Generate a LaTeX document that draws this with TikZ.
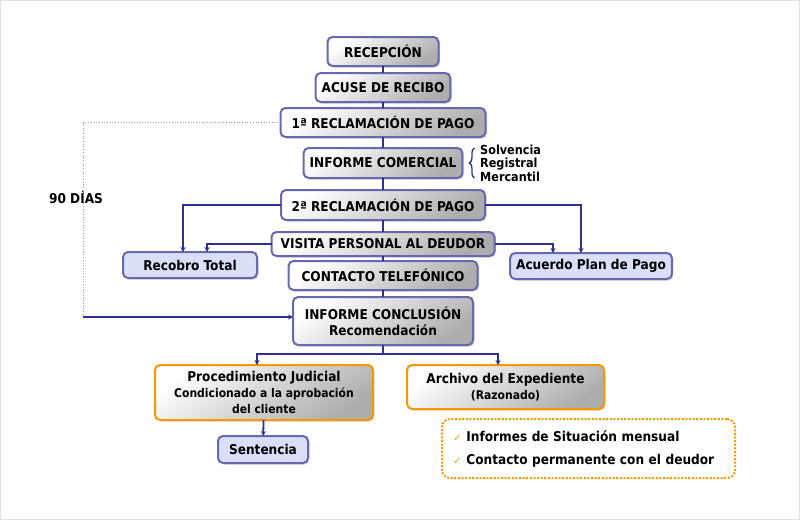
\documentclass[tikz,border=0pt]{standalone}
\usepackage{fontspec}
\setmainfont{DejaVu Sans Condensed}
\newfontfamily\symfont{DejaVu Sans}
\usepackage{tikz}
\usetikzlibrary{positioning, arrows.meta, shadows, decorations.pathreplacing}

\definecolor{navy}{RGB}{46,49,146}
\definecolor{boxline}{RGB}{104,104,176}
\definecolor{paleblue}{RGB}{216,223,247}
\definecolor{amber}{RGB}{247,153,0}
\newcommand{\chk}{{\symfont\color{amber}\fontsize{10}{10}\selectfont ✓}\hspace{5pt}}

\begin{document}
\begin{tikzpicture}[
    x=1pt, y=-1pt,
    font=\bfseries\fontsize{13.5}{16}\selectfont,
    basebox/.style={rounded corners=5pt, line width=2pt, outer sep=0pt, align=center, inner xsep=6pt, inner ysep=2pt,
        drop shadow={shadow xshift=1.5pt, shadow yshift=-1.5pt, opacity=0.35}},
    stepbox/.style={basebox, draw=boxline, top color=white, bottom color=black!32, shading angle=35},
    outcome/.style={basebox, draw=boxline, fill=paleblue, minimum height=26pt},
    legalbox/.style={basebox, draw=amber, top color=white, bottom color=black!32, shading angle=35},
    link/.style={draw=navy, line width=1.8pt},
    arrowlink/.style={link, -{Stealth[length=5pt,width=5pt]}}
]
\useasboundingbox (0,0) rectangle (800,520);
\draw[black!12] (0.5,0.5) rectangle (799.5,519.5);

% Main sequence
\node[stepbox, minimum width=111pt, minimum height=29pt] (recep) at (383,51.5) {RECEPCIÓN};
\node[stepbox, minimum width=132pt, minimum height=29pt, below=7pt of recep] (acuse) {ACUSE DE RECIBO};
\node[stepbox, minimum width=205pt, minimum height=29pt, below=6pt of acuse] (recl1) {1ª RECLAMACIÓN DE PAGO};
\node[stepbox, minimum width=158pt, minimum height=30pt, below=11pt of recl1] (infcom) {INFORME COMERCIAL};
\node[stepbox, minimum width=204pt, minimum height=30pt, below=12pt of infcom] (recl2) {2ª RECLAMACIÓN DE PAGO};
\node[stepbox, minimum width=223pt, minimum height=24pt, below=12pt of recl2] (visita) {VISITA PERSONAL AL DEUDOR};
\node[stepbox, minimum width=189pt, minimum height=29pt, below=5pt of visita] (contacto) {CONTACTO TELEFÓNICO};
\node[stepbox, minimum width=180pt, minimum height=48pt, below=7pt of contacto] (concl) {INFORME CONCLUSIÓN\\Recomendación};

% Outcomes
\node[outcome, minimum width=134pt] (recobro) at (190,265) {Recobro Total};
\node[outcome, minimum width=160pt] (acuerdo) at (591,266) {Acuerdo Plan de Pago};
\node[legalbox, minimum width=218pt, minimum height=55pt] (proced) at (264,392.5)
    {Procedimiento Judicial\\{\fontsize{12}{14}\selectfont Condicionado a la aprobación}\\{\fontsize{12}{14}\selectfont del cliente}};
\node[legalbox, minimum width=197pt, minimum height=44pt] (archivo) at (505.5,387)
    {Archivo del Expediente\\{\fontsize{12}{14}\selectfont (Razonado)}};
\node[outcome, minimum width=90pt, minimum height=27pt] (sentencia) at (263,449.5) {Sentencia};
\node[draw=amber, line width=2pt, dash pattern=on 2pt off 1.6pt, rounded corners=8pt,
    text width=271pt, inner xsep=11pt, minimum height=59pt, align=left,
    font=\bfseries\fontsize{13.5}{23}\selectfont] (seguim) at (588.5,448.5)
    {\chk Informes de Situación mensual\\\chk Contacto permanente con el deudor};

% Side notes
\coordinate (bracebot) at ([xshift=12pt]infcom.south east);
\coordinate (bracetop) at ([xshift=12pt]infcom.north east);
\draw[navy, line width=1.3pt, decorate, decoration={brace, amplitude=5pt}] (bracebot) -- (bracetop);
\node[anchor=west, align=left, inner sep=0pt, font=\bfseries\fontsize{12.5}{13.5}\selectfont] (datos) at (480,163)
    {Solvencia\\Registral\\Mercantil};
\node (plazo) at (76,197) {90 DÍAS};

% Trunk
\draw[link] (recep) -- (acuse);
\draw[link] (acuse) -- (recl1);
\draw[link] (recl1) -- (infcom);
\draw[link] (infcom) -- (recl2);
\draw[link] (recl2) -- (visita);
\draw[link] (visita) -- (contacto);
\draw[link] (contacto) -- (concl);

% Branches
\draw[arrowlink] (recl2.west) -| ([xshift=-7pt]recobro.north);
\draw[arrowlink] (visita.west) -| ([xshift=17pt]recobro.north);
\draw[arrowlink] (recl2.east) -| ([xshift=-10pt]acuerdo.north);
\draw[arrowlink] (visita.east) -| ([xshift=-38pt]acuerdo.north);

% 90 days loop
\coordinate (giro) at (83,317);
\draw[boxline!70, line width=0.7pt, dotted] (recl1.west) -| (giro);
\draw[arrowlink, line width=1.2pt] (giro) -- (concl.west |- giro);

% Conclusion split
\coordinate (split) at (383,354);
\draw[link] (concl) -- (split);
\draw[arrowlink] (split) -| ([xshift=-7pt]proced.north);
\draw[arrowlink] (split) -| ([xshift=-7.5pt]archivo.north);
\draw[arrowlink] (proced) -- (sentencia);

\end{tikzpicture}
\end{document}
